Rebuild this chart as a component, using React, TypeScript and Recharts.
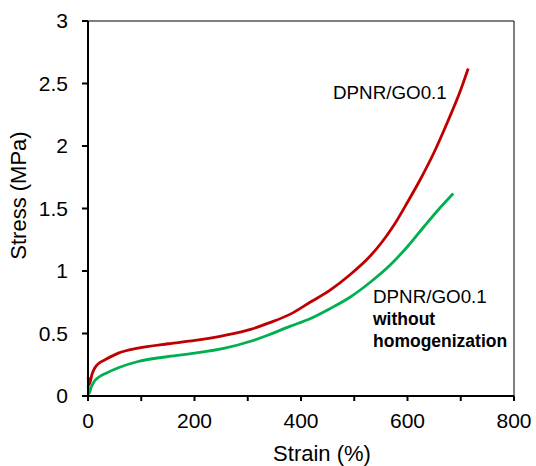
import { LineChart, Line, XAxis, YAxis, ReferenceLine } from 'recharts';

// DPNR/GO0.1 (red)
const redStrain = [0, 2, 8, 13, 20, 32, 57, 94, 151, 201, 257, 307, 340, 380, 417, 454, 492, 530, 550, 575, 600, 625, 650, 675, 700, 714];
const redStress = [0.15, 0.09, 0.18, 0.226, 0.26, 0.29, 0.343, 0.383, 0.418, 0.445, 0.485, 0.535, 0.585, 0.655, 0.75, 0.845, 0.97, 1.12, 1.22, 1.37, 1.55, 1.74, 1.95, 2.19, 2.45, 2.62];

// DPNR/GO0.1 without homogenization (green)
const greenStrain = [0, 2, 6, 13, 20, 32, 57, 94, 151, 201, 257, 307, 340, 379, 417, 454, 492, 530, 567, 601, 630, 660, 686];
const greenStress = [0.08, 0.02, 0.07, 0.124, 0.15, 0.178, 0.226, 0.276, 0.316, 0.343, 0.383, 0.44, 0.49, 0.557, 0.618, 0.698, 0.79, 0.91, 1.046, 1.2, 1.35, 1.5, 1.62];

const xTicks = [0, 100, 200, 300, 400, 500, 600, 700, 800];
const yTicks = [0, 0.5, 1, 1.5, 2, 2.5, 3];

const redData = redStrain.map((x, i) => ({ x, y: redStress[i] }));
const greenData = greenStrain.map((x, i) => ({ x, y: greenStress[i] }));

const FONT = '"Liberation Sans", Arial, sans-serif';

// only every other x tick gets a label (minor ticks at 100, 300...)
function XTick(props: any) {
  const { x, y, payload } = props;
  if (payload.value % 200 !== 0) return <g />;
  return (
    <text x={x} y={y} dy="0.71em" textAnchor="middle" fill="#000" fontSize={21} fontFamily={FONT}>
      {payload.value}
    </text>
  );
}

export default function App() {
  return (
    <div style={{ position: 'absolute', left: 0, top: 0, width: 536, height: 466, background: '#fff' }}>
      <LineChart width={536} height={466} margin={{ top: 21, right: 22, bottom: 0, left: 0 }}>
        <XAxis
          dataKey="x"
          type="number"
          domain={[0, 800]}
          ticks={xTicks}
          allowDuplicatedCategory={false}
          height={70}
          stroke="#000"
          strokeWidth={2}
          tickSize={5}
          tickMargin={12.5}
          tick={XTick}
          label={{ value: 'Strain (%)', position: 'insideBottom', offset: 5.5, dx: 21, fill: '#000', fontSize: 22, fontFamily: FONT }}
        />
        <YAxis
          type="number"
          domain={[0, 3]}
          ticks={yTicks}
          width={88}
          stroke="#000"
          strokeWidth={2}
          tickSize={6}
          tickMargin={14}
          tick={{ fill: '#000', fontSize: 21, fontFamily: FONT }}
          label={{
            value: 'Stress (MPa)',
            angle: -90,
            position: 'insideLeft',
            offset: 18,
            dy: -13,
            fill: '#000',
            fontSize: 22,
            fontFamily: FONT,
            style: { textAnchor: 'middle' },
          }}
        />
        <ReferenceLine y={3} stroke="#000" strokeWidth={1} />
        <ReferenceLine x={800} stroke="#000" strokeWidth={1} />
        <Line data={greenData} dataKey="y" type="monotone" stroke="#00b050" strokeWidth={2.8} dot={false} isAnimationActive={false} />
        <Line data={redData} dataKey="y" type="monotone" stroke="#c00000" strokeWidth={2.8} dot={false} isAnimationActive={false} />
      </LineChart>
      <div style={{ position: 'absolute', left: 333, top: 82, fontFamily: FONT, fontSize: 18.8, lineHeight: 'normal', color: '#000', whiteSpace: 'nowrap' }}>
        DPNR/GO0.1
      </div>
      <div style={{ position: 'absolute', left: 373, top: 286, fontFamily: FONT, fontSize: 18.8, lineHeight: '22px', color: '#000', whiteSpace: 'nowrap' }}>
        <div>DPNR/GO0.1</div>
        <div style={{ fontWeight: 'bold', fontSize: 17.5 }}>without</div>
        <div style={{ fontWeight: 'bold', fontSize: 17.5 }}>homogenization</div>
      </div>
    </div>
  );
}
